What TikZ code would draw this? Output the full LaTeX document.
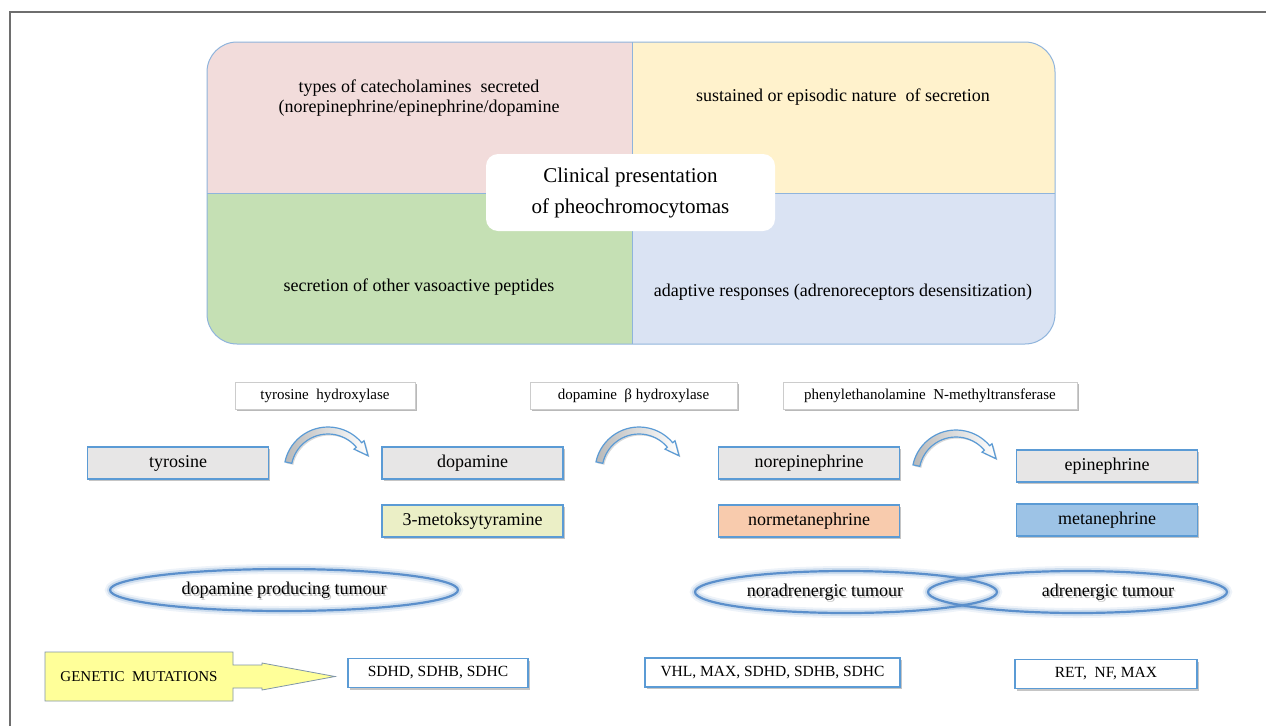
\documentclass[tikz,border=0pt]{standalone}
\usepackage{fontspec}
\setmainfont{Liberation Serif}
\usetikzlibrary{shadows,calc,shapes.geometric}
\definecolor{qpink}{HTML}{F2DCDB}
\definecolor{qyellow}{HTML}{FFF2CC}
\definecolor{qgreen}{HTML}{C5E0B4}
\definecolor{qblue}{HTML}{DAE3F3}
\definecolor{bigedge}{HTML}{8FB4DC}
\definecolor{boxedge}{HTML}{5B9BD5}
\definecolor{boxgray}{HTML}{E7E6E6}
\definecolor{mtyellow}{HTML}{EBEFC6}
\definecolor{peach}{HTML}{F8CBAD}
\definecolor{mblue}{HTML}{9DC3E6}
\definecolor{glowblue}{HTML}{5B8FCB}
\definecolor{genyellow}{HTML}{FFFF99}
\definecolor{genedge}{HTML}{8096A8}
\definecolor{framegray}{HTML}{6E6E6E}
\newcommand{\bendarrow}[1]{%
  \draw[arrowband] ($(#1)+(168:44)$) arc[start angle=168,end angle=40,radius=44]
    -- ($(#1)+(40:47)$) -- ($(#1)+(40:40.5)+(-50:14)$) -- ($(#1)+(40:34)$) -- ($(#1)+(40:37)$)
    arc[start angle=40,end angle=168,radius=37] -- cycle;}
\tikzset{
  qtext/.style={font=\fontsize{18}{20}\selectfont, align=center, inner sep=0pt},
  substbox/.style={draw=boxedge, line width=1.6pt, fill=boxgray, minimum width=181pt,
    minimum height=32pt, inner sep=0pt, font=\fontsize{18}{20}\selectfont,
    drop shadow={shadow xshift=1.5pt, shadow yshift=-1.5pt, opacity=0.45}},
  enzbox/.style={draw=gray!40, line width=0.5pt, fill=white, minimum height=27pt,
    inner sep=0pt, font=\fontsize{15}{17}\selectfont,
    drop shadow={shadow xshift=2pt, shadow yshift=-2pt, opacity=0.55, fill=gray}},
  genebox/.style={draw=boxedge, line width=1.3pt, fill=white, minimum height=29pt,
    inner sep=0pt, font=\fontsize{15.5}{17}\selectfont,
    drop shadow={shadow xshift=2pt, shadow yshift=-2pt, opacity=0.45, fill=gray}},
  tumour/.style={ellipse, draw=glowblue, line width=2.2pt, inner sep=0pt,
    preaction={draw=glowblue, line width=10pt, opacity=0.10},
    preaction={draw=glowblue, line width=6pt, opacity=0.22}},
  tumtext/.style={font=\fontsize{18}{20}\selectfont, inner sep=0pt},
  tumshadow/.style={font=\fontsize{18}{20}\selectfont, inner sep=0pt, text=gray, opacity=0.45},
  arrowband/.style={draw=boxedge, line width=1.2pt, left color=gray!55, right color=white,
    drop shadow={shadow xshift=1.5pt, shadow yshift=-1.5pt, opacity=0.3}},
}
\begin{document}
\begin{tikzpicture}[x=1pt,y=1pt]
\useasboundingbox (0,0) rectangle (1266,-726);
\fill[white] (0,0) rectangle (1266,-726);
% frame
\draw[framegray, line width=1.5pt] (10,-726) -- (10,-12) -- (1266,-12);
% big box quadrants
\begin{scope}
\clip[rounded corners=30pt] (207,-42) rectangle (1055,-344);
\fill[qpink] (207,-42) rectangle (632,-193);
\fill[qyellow] (632,-42) rectangle (1055,-193);
\fill[qgreen] (207,-193) rectangle (632,-344);
\fill[qblue] (632,-193) rectangle (1055,-344);
\draw[bigedge, line width=0.8pt] (632,-42) -- (632,-344) (207,-193) -- (1055,-193);
\end{scope}
\draw[bigedge, line width=1pt, rounded corners=30pt] (207,-42) rectangle (1055,-344);
\node[qtext] (t1) at (419,-98) {types of catecholamines\ \ secreted\\(norepinephrine/epinephrine/dopamine};
\node[qtext] (t2) at (843,-97) {sustained or episodic nature\ \ of secretion};
\node[qtext] (t3) at (419,-287) {secretion of other vasoactive peptides};
\node[qtext] (t4) at (843,-292) {adaptive responses (adrenoreceptors desensitization)};
\node[fill=white, rounded corners=12pt, minimum width=289pt, minimum height=77pt, inner sep=0pt,
  align=center, font=\fontsize{21}{31}\selectfont] (clin) at (630.5,-192.5)
  {Clinical presentation\\of pheochromocytomas};
% enzymes
\node[enzbox, minimum width=180pt] (th) at (325,-395.5) {tyrosine\ \ hydroxylase};
\node[enzbox, minimum width=207pt] (dbh) at (633.5,-395.5) {dopamine\ \ β hydroxylase};
\node[enzbox, minimum width=294pt] (pnmt) at (930,-395.5) {phenylethanolamine\ \ N-methyltransferase};
% substances
\node[substbox] (tyr) at (178,-463) {tyrosine};
\node[substbox] (dop) at (472.5,-463) {dopamine};
\node[substbox, fill=mtyellow] (mtyr) at (472.5,-521) {3-metoksytyramine};
\node[substbox] (nor) at (809,-463) {norepinephrine};
\node[substbox, fill=peach] (normet) at (809,-521) {normetanephrine};
\node[substbox] (epi) at (1107,-466) {epinephrine};
\node[substbox, fill=mblue] (met) at (1107,-520) {metanephrine};
% curved arrows
\coordinate (a1) at (328,-471);
\coordinate (a2) at (639,-471);
\coordinate (a3) at (956,-474);
\bendarrow{a1}
\bendarrow{a2}
\bendarrow{a3}
% tumours
\node[tumour, minimum width=348pt, minimum height=42pt] (dpt) at (284,-590) {};
\node[tumshadow] (dpts) at ($(dpt.center)+(1.5,-2)$) {dopamine producing tumour};
\node[tumtext] (dptl) at (dpt.center) {dopamine producing tumour};
\node[tumour, minimum width=302pt, minimum height=42pt] (nort) at (846,-592) {};
\node[tumour, minimum width=299pt, minimum height=42pt] (adt) at (1077.5,-592) {};
\node[tumshadow] (norts) at (826.5,-594) {noradrenergic tumour};
\node[tumtext] (nortl) at (825,-592) {noradrenergic tumour};
\node[tumshadow] (adts) at (1109.5,-594) {adrenergic tumour};
\node[tumtext] (adtl) at (1108,-592) {adrenergic tumour};
% genetic mutations
\draw[genedge, fill=genyellow, line width=0.8pt] (45,-652) -- (233,-652) -- (233,-665) -- (262,-665)
  -- (262,-663) -- (335,-676.5) -- (262,-690) -- (262,-688) -- (233,-688) -- (233,-701)
  -- (45,-701) -- cycle;
\node[font=\fontsize{15}{17}\selectfont, inner sep=0pt] (gen) at (139,-676.5) {GENETIC\ \ MUTATIONS};
\node[genebox, minimum width=180pt] (sdh) at (438,-673) {SDHD, SDHB, SDHC};
\node[genebox, minimum width=255pt] (vhl) at (772.5,-672.5) {VHL, MAX, SDHD, SDHB, SDHC};
\node[genebox, minimum width=182pt] (ret) at (1106,-674) {RET,\ \ NF, MAX};
\end{tikzpicture}
\end{document}
